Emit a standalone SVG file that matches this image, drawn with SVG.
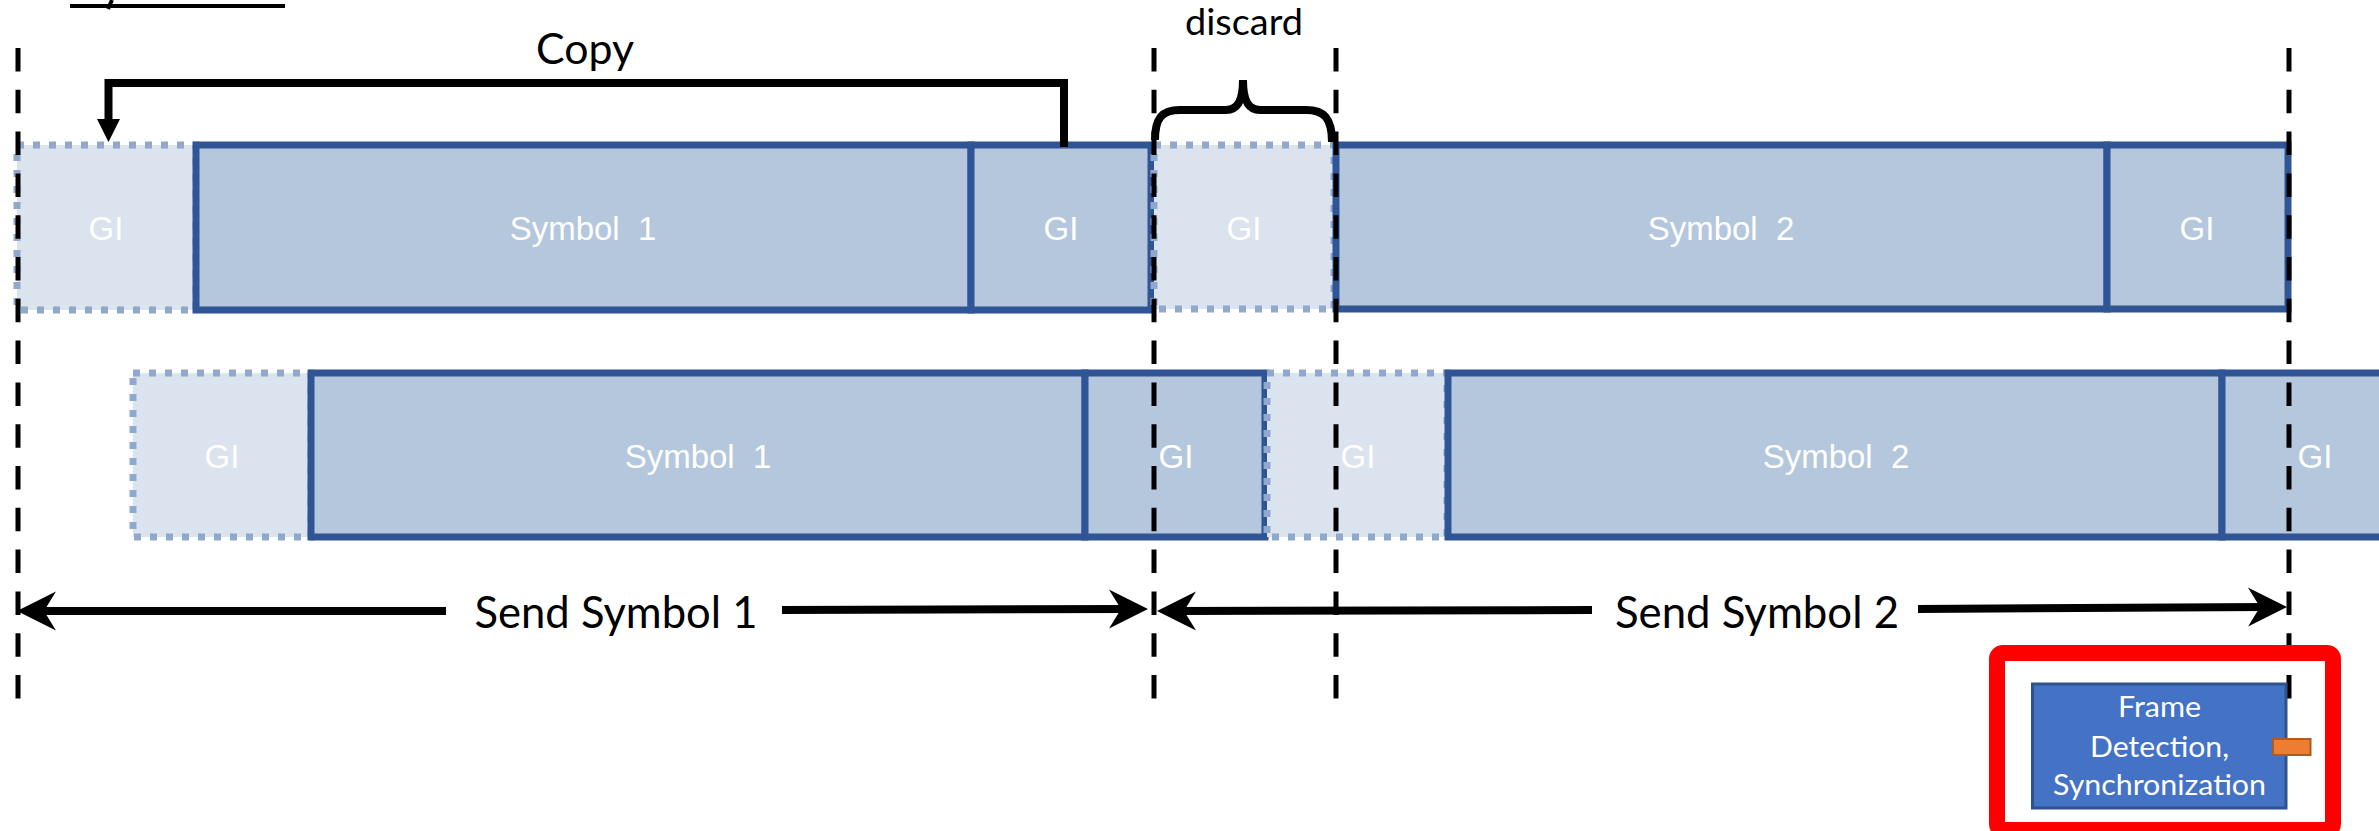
<svg xmlns="http://www.w3.org/2000/svg" width="2379" height="831" viewBox="0 0 2379 831">
<style>
.sym{fill:#b4c7dc;stroke:#2f5597;stroke-width:7}
.gil{fill:#dae3ee;stroke:#8fa8cc;stroke-width:7;stroke-dasharray:7 9}
.lbl{font-family:'Liberation Sans',Arial,sans-serif;font-size:33px;fill:#fff;text-anchor:middle;white-space:pre}
.cal{font-family:Lato,'Noto Sans',sans-serif;fill:#000;text-anchor:middle}
.wt{font-family:Lato,'Noto Sans',sans-serif;fill:#fff;text-anchor:middle;font-size:28px}
.guide{stroke:#000;stroke-width:5;stroke-dasharray:23.5 18.3;fill:none}
.conn{stroke:#000;stroke-width:8;fill:none}
</style>
<defs>
<marker id="stealth" markerUnits="userSpaceOnUse" markerWidth="40" markerHeight="40" viewBox="-40 -20 40 40" refX="-20" refY="0" orient="auto">
<path d="M0,0 L-39,-19.5 L-27,0 L-39,19.5 Z" fill="#000"/>
</marker>
<marker id="tri" markerUnits="userSpaceOnUse" markerWidth="24" markerHeight="24" viewBox="-24 -12 24 24" refX="-10" refY="0" orient="auto">
<path d="M0,0 L-23,-11.5 L-23,11.5 Z" fill="#000"/>
</marker>
</defs>
<rect width="2379" height="831" fill="#fff"/>
<g id="title-fragment">
<line x1="70" y1="6" x2="285" y2="6" stroke="#000" stroke-width="4"/>
<line x1="112" y1="0" x2="108" y2="9" stroke="#000" stroke-width="4"/>
</g>
<g id="row1">
<g id="r1-gi-copy"><rect class="gil" x="17" y="145" width="179" height="165"/><text class="lbl" x="106" y="240">GI</text></g>
<g id="r1-symbol1"><rect class="sym" x="196" y="145" width="775" height="165"/><text class="lbl" x="583" y="240">Symbol  1</text></g>
<g id="r1-gi1"><rect class="sym" x="971" y="145" width="180" height="165"/><text class="lbl" x="1061" y="240">GI</text></g>
<g id="r1-gi-discard"><rect class="gil" x="1154" y="145" width="180" height="164"/><text class="lbl" x="1244" y="240">GI</text></g>
<g id="r1-symbol2"><rect class="sym" x="1336" y="145" width="771" height="164"/><text class="lbl" x="1721" y="240">Symbol  2</text></g>
<g id="r1-gi2"><rect class="sym" x="2107" y="145" width="181" height="164"/><text class="lbl" x="2197" y="240">GI</text></g>
</g>
<g id="row2">
<g id="r2-gi-copy"><rect class="gil" x="133" y="373" width="178" height="164"/><text class="lbl" x="222" y="468">GI</text></g>
<g id="r2-symbol1"><rect class="sym" x="311" y="373" width="774" height="164"/><text class="lbl" x="698" y="468">Symbol  1</text></g>
<g id="r2-gi1"><rect class="sym" x="1085" y="373" width="180" height="164"/><text class="lbl" x="1176" y="468">GI</text></g>
<g id="r2-gi-discard"><rect class="gil" x="1267" y="373" width="180" height="164"/><text class="lbl" x="1358" y="468">GI</text></g>
<g id="r2-symbol2"><rect class="sym" x="1448" y="373" width="774" height="164"/><text class="lbl" x="1836" y="468">Symbol  2</text></g>
<g id="r2-gi2"><rect class="sym" x="2222" y="373" width="188" height="164"/><text class="lbl" x="2315" y="468">GI</text></g>
</g>
<g id="guides">
<line class="guide" x1="18" y1="48" x2="18" y2="702"/>
<line class="guide" x1="1154" y1="48" x2="1154" y2="702"/>
<line class="guide" x1="1336" y1="48" x2="1336" y2="702"/>
<line class="guide" x1="2289" y1="48" x2="2289" y2="702"/>
</g>
<g id="connectors">
<path id="copy-arrow" class="conn" stroke-width="7" d="M1064,147 V83 H108.5 V132" marker-end="url(#tri)"/>
<path id="discard-brace" class="conn" stroke-width="7" d="M1155,140 C1155,118 1162,110 1180,110 H1226 C1238,110 1243,100 1243,80 C1243,100 1248,110 1260,110 H1306 C1324,110 1332,118 1332,142"/>
<path class="conn" d="M446,611 L37,611" marker-end="url(#stealth)"/>
<path class="conn" d="M782,610 L1128,609" marker-end="url(#stealth)"/>
<path class="conn" d="M1592,610 L1177,611" marker-end="url(#stealth)"/>
<path class="conn" d="M1918,609 L2267,607" marker-end="url(#stealth)"/>
</g>
<g id="labels">
<text class="cal" x="585" y="64" font-size="43" textLength="98" lengthAdjust="spacingAndGlyphs">Copy</text>
<text class="cal" x="1244" y="35" font-size="37" textLength="118" lengthAdjust="spacingAndGlyphs">discard</text>
<text class="cal" x="616" y="628" font-size="44" textLength="283" lengthAdjust="spacingAndGlyphs">Send Symbol 1</text>
<text class="cal" x="1757" y="628" font-size="44" textLength="284" lengthAdjust="spacingAndGlyphs">Send Symbol 2</text>
</g>
<g id="highlight">
<rect x="1997" y="653" width="336" height="177" rx="6" fill="none" stroke="#ff0000" stroke-width="16"/>
</g>
<g id="frame-detection">
<rect x="2032.5" y="684" width="253.5" height="124" fill="#4472c4" stroke="#2f528f" stroke-width="3"/>
<text class="wt" x="2159.5" y="716.5" textLength="83" lengthAdjust="spacingAndGlyphs">Frame</text>
<text class="wt" x="2159.5" y="756.5" textLength="139" lengthAdjust="spacingAndGlyphs">Detection,</text>
<text class="wt" x="2159.5" y="795" textLength="213" lengthAdjust="spacingAndGlyphs">Synchronization</text>
</g>
<g id="port">
<rect x="2273" y="739" width="37.5" height="16" fill="#ed7d31" stroke="#ae5a21" stroke-width="2"/>
</g>
</svg>
